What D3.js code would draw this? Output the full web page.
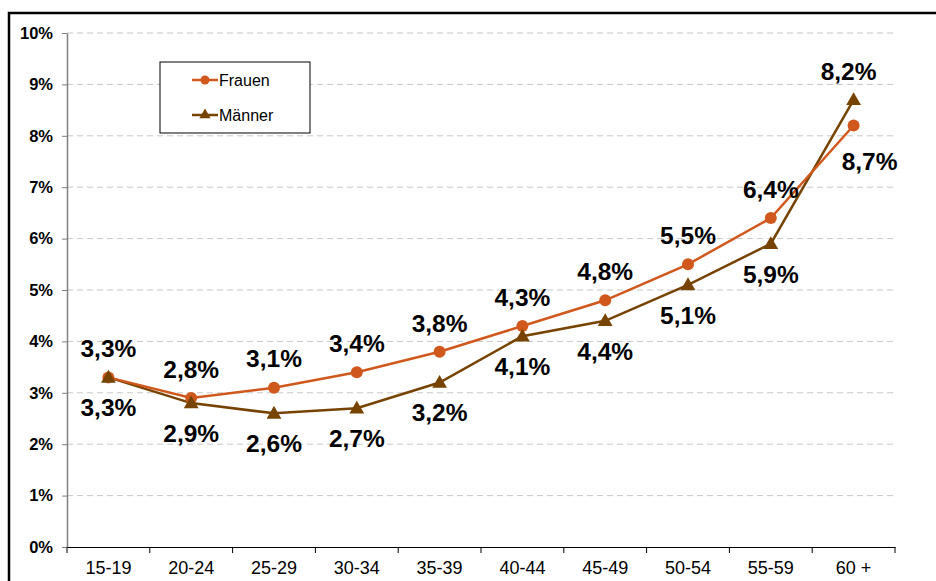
<!DOCTYPE html>
<html>
<head>
<meta charset="utf-8">
<script src="https://cdn.jsdelivr.net/npm/d3@7"></script>
<style>
  body { margin: 0; background: #fff; }
  svg { display: block; font-family: "Liberation Sans", Arial, sans-serif; }
</style>
</head>
<body>
<svg id="chart" width="936" height="581"></svg>
<script>
const ageGroups = ["15-19", "20-24", "25-29", "30-34", "35-39", "40-44", "45-49", "50-54", "55-59", "60 +"];
const frauen = [3.3, 2.9, 3.1, 3.4, 3.8, 4.3, 4.8, 5.5, 6.4, 8.2];
const maenner = [3.3, 2.8, 2.6, 2.7, 3.2, 4.1, 4.4, 5.1, 5.9, 8.7];
// label texts as printed in the original (partly swapped there)
const frauenLabels = ["3,3%", "2,8%", "3,1%", "3,4%", "3,8%", "4,3%", "4,8%", "5,5%", "6,4%", "8,2%"];
const maennerLabels = ["3,3%", "2,9%", "2,6%", "2,7%", "3,2%", "4,1%", "4,4%", "5,1%", "5,9%", "8,7%"];
const yTicks = [0, 1, 2, 3, 4, 5, 6, 7, 8, 9, 10];

const colors = { frauen: "#d0581c", maenner: "#764300" };

const svg = d3.select("#chart");
const plot = { left: 67, right: 895, top: 33, bottom: 547 };

// outer frame
svg.append("rect")
    .attr("x", 9).attr("y", 13)
    .attr("width", 940).attr("height", 600)
    .attr("fill", "none")
    .attr("stroke", "#000")
    .attr("stroke-width", 2.5);

const x = d3.scaleBand().domain(ageGroups).range([plot.left, plot.right]);
const y = d3.scaleLinear().domain([0, 10]).range([plot.bottom, plot.top]);
const cx = (d) => x(d) + x.bandwidth() / 2;

// grid
svg.append("g")
    .selectAll("line")
    .data(yTicks.filter((t) => t > 0))
    .join("line")
    .attr("x1", plot.left).attr("x2", plot.right)
    .attr("y1", (t) => y(t)).attr("y2", (t) => y(t))
    .attr("stroke", "#c8c8c8")
    .attr("stroke-width", 1)
    .attr("stroke-dasharray", "6,4");

// y axis
const yAxis = svg.append("g")
    .attr("transform", `translate(${plot.left},0)`)
    .call(d3.axisLeft(y).tickValues(yTicks).tickFormat((t) => t + "%").tickSize(5).tickSizeOuter(0));
yAxis.select(".domain").attr("stroke", "#808080").attr("stroke-width", 1.5);
yAxis.selectAll(".tick line").attr("stroke", "#808080");
yAxis.selectAll(".tick text")
    .attr("x", -14)
    .attr("fill", "#000")
    .style("font-size", "16.5px")
    .style("font-weight", "bold")
    .style("font-family", "Liberation Sans, Arial, sans-serif");

// x axis
const xAxis = svg.append("g")
    .attr("transform", `translate(0,${plot.bottom})`)
    .call(d3.axisBottom(x).tickSize(0).tickSizeOuter(0));
xAxis.select(".domain").attr("stroke", "#000").attr("stroke-width", 1.2);
xAxis.selectAll(".tick text")
    .attr("y", 14)
    .attr("fill", "#000")
    .style("font-size", "18px")
    .style("font-family", "Liberation Sans, Arial, sans-serif");
xAxis.selectAll(".sep")
    .data(d3.range(ageGroups.length + 1))
    .join("line")
    .attr("class", "sep")
    .attr("x1", (i) => plot.left + i * x.bandwidth())
    .attr("x2", (i) => plot.left + i * x.bandwidth())
    .attr("y1", 0).attr("y2", 6)
    .attr("stroke", "#000");

// lines
const line = d3.line().x((d, i) => cx(ageGroups[i])).y((d) => y(d));

svg.append("path")
    .datum(maenner)
    .attr("d", line)
    .attr("fill", "none")
    .attr("stroke", colors.maenner)
    .attr("stroke-width", 2.5);

svg.append("path")
    .datum(frauen)
    .attr("d", line)
    .attr("fill", "none")
    .attr("stroke", colors.frauen)
    .attr("stroke-width", 2.5);

svg.append("g")
    .selectAll("circle")
    .data(frauen)
    .join("circle")
    .attr("cx", (d, i) => cx(ageGroups[i]))
    .attr("cy", (d) => y(d))
    .attr("r", 6)
    .attr("fill", colors.frauen);

const tri = d3.symbol().type(d3.symbolTriangle).size(95);
svg.append("g")
    .selectAll("path")
    .data(maenner)
    .join("path")
    .attr("d", tri)
    .attr("transform", (d, i) => `translate(${cx(ageGroups[i])},${y(d) + 1})`)
    .attr("fill", colors.maenner);

// data labels: Frauen above the upper point, Männer below the lower one
const labelStyle = (sel) => sel
    .attr("text-anchor", "middle")
    .attr("dy", "0.36em")
    .attr("fill", "#000")
    .style("font-size", "24.5px")
    .style("font-weight", "bold");

svg.append("g")
    .selectAll("text")
    .data(frauenLabels)
    .join("text")
    .attr("x", (d, i) => cx(ageGroups[i]) + (i === 9 ? -5 : 0))
    .attr("y", (d, i) => y(Math.max(frauen[i], maenner[i])) - 29)
    .text((d) => d)
    .call(labelStyle);

svg.append("g")
    .selectAll("text")
    .data(maennerLabels)
    .join("text")
    .attr("x", (d, i) => cx(ageGroups[i]) + (i === 9 ? 16 : 0))
    .attr("y", (d, i) => y(Math.min(frauen[i], maenner[i])) + 30 + (i === 9 ? 6 : 0))
    .text((d) => d)
    .call(labelStyle);

// legend
const legend = svg.append("g").attr("transform", "translate(160,62)");
legend.append("rect")
    .attr("width", 150).attr("height", 71)
    .attr("fill", "#fff")
    .attr("stroke", "#000")
    .attr("stroke-width", 1);

const legendItems = [
    { name: "Frauen", color: colors.frauen, shape: "circle", yy: 18 },
    { name: "Männer", color: colors.maenner, shape: "triangle", yy: 53 },
];
legendItems.forEach((item) => {
    const g = legend.append("g").attr("transform", `translate(0,${item.yy})`);
    g.append("line")
        .attr("x1", 32).attr("x2", 58)
        .attr("stroke", item.color)
        .attr("stroke-width", 2.5);
    if (item.shape === "circle") {
        g.append("circle").attr("cx", 45).attr("r", 4.5).attr("fill", item.color);
    } else {
        g.append("path")
            .attr("d", d3.symbol().type(d3.symbolTriangle).size(55))
            .attr("transform", "translate(45,0)")
            .attr("fill", item.color);
    }
    g.append("text")
        .attr("x", 59)
        .attr("dy", "0.35em")
        .style("font-size", "16px")
        .text(item.name);
});
</script>
</body>
</html>
